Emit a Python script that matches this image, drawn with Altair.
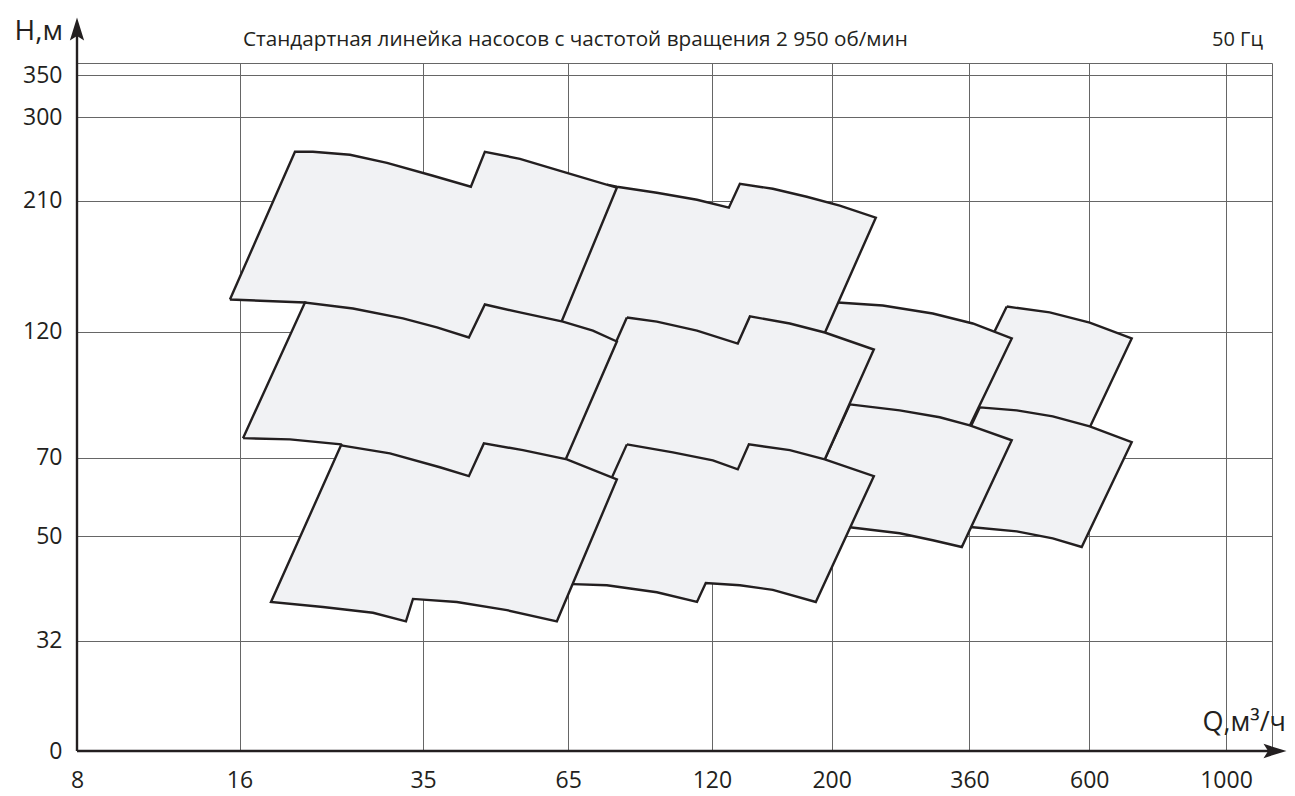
import altair as alt
import pandas as pd

# ---- axis ticks ----
Q_TICKS = [8, 16, 35, 65, 120, 200, 360, 600, 1000]
H_TICKS = [20, 32, 50, 70, 120, 210, 300, 350]   # 20 is the base line, labelled "0"

# ---- pump coverage regions: outline points (Q in m3/h, H in m) ----
T1_Q = [15.36, 20.27, 21.88, 25.63, 30.01, 36.51, 42.92, 45.56, 52.91, 64.64, 80.00, 62.21, 42.74, 21.15, 15.36]
T1_H = [137.6, 258.6, 258.6, 255.3, 246.7, 233.4, 222.7, 258.6, 250.9, 236.4, 221.8, 120.5, 106.1, 135.8, 137.6]

T2_Q = [76.66, 80.00, 94.88, 112.6, 129.0, 135.2, 155.6, 179.8, 207.0, 241.4, 186.1, 114.0, 60.12, 76.66]
T2_H = [224.6, 222.7, 217.1, 210.7, 203.7, 225.6, 220.8, 213.4, 205.4, 195.2, 108.3, 103.8, 118.0, 224.6]

T3_Q = [196.7, 205.3, 248.7, 307.8, 365.1, 431.1, 349.9, 216.0, 186.1, 196.7]
T3_H = [135.8, 135.8, 134.1, 129.6, 124.2, 116.5, 75.4, 75.4, 115.5, 135.8]

T4_Q = [422.0, 506.9, 601.2, 719.1, 583.5, 384.3, 346.9, 422.0]
T4_H = [133.5, 130.2, 124.7, 116.5, 74.8, 78.7, 89.4, 133.5]

M1_Q = [16.24, 21.15, 25.96, 32.13, 37.13, 42.56, 45.56, 52.91, 63.55, 72.23, 80.00, 63.01, 42.74, 25.63, 24.67, 19.84, 16.24]
M1_H = [76.1, 135.8, 132.4, 126.9, 122.1, 117.0, 134.7, 130.2, 125.2, 120.5, 115.0, 66.3, 60.9, 70.4, 74.1, 75.7, 76.1]

M2_Q = [83.49, 94.88, 112.6, 134.0, 141.1, 167.3, 194.2, 239.4, 190.1, 114.0, 61.42, 83.49]
M2_H = [127.4, 125.2, 120.5, 114.0, 128.0, 124.2, 119.5, 111.1, 66.3, 60.9, 63.6, 127.4]

M3_Q = [216.0, 267.4, 317.1, 360.5, 431.1, 348.4, 307.8, 267.4, 216.0, 170.2, 216.0]
M3_H = [87.9, 85.7, 83.2, 80.4, 75.4, 47.8, 49.2, 50.7, 52.0, 52.0, 87.9]

M4_Q = [376.2, 440.4, 513.5, 601.2, 719.1, 581.0, 513.5, 440.4, 365.1, 296.2, 376.2]
M4_H = [86.8, 85.7, 83.5, 80.0, 74.8, 47.8, 49.6, 51.1, 52.0, 52.0, 86.8]

B1_Q = [24.67, 30.39, 37.61, 42.56, 45.37, 53.59, 64.64, 80.00, 61.94, 50.06, 40.43, 33.53, 32.54, 28.27, 22.84, 18.30, 24.67]
B1_H = [73.8, 71.3, 67.2, 64.7, 74.4, 72.3, 69.5, 63.8, 34.8, 36.5, 37.8, 38.3, 34.8, 36.1, 37.0, 37.8, 73.8]

B2_Q = [83.49, 101.6, 120.5, 134.0, 140.5, 167.3, 194.2, 239.4, 186.9, 155.6, 135.2, 116.9, 112.6, 94.88, 76.66, 66.31, 63.82, 83.49]
B2_H = [74.1, 71.6, 69.2, 66.6, 74.1, 72.3, 69.5, 64.7, 37.8, 39.8, 40.6, 41.0, 37.8, 39.4, 40.6, 40.8, 40.8, 74.1]

# drawing order: back to front
SHAPES = [("T4", T4_Q, T4_H), ("T3", T3_Q, T3_H), ("T2", T2_Q, T2_H), ("T1", T1_Q, T1_H),
          ("M4", M4_Q, M4_H), ("M3", M3_Q, M3_H), ("M2", M2_Q, M2_H), ("M1", M1_Q, M1_H),
          ("B2", B2_Q, B2_H), ("B1", B1_Q, B1_H)]

TITLE = "Стандартная линейка насосов с частотой вращения 2 950 об/мин"
FREQ = "50 Гц"
FONT = "Open Sans"
INK = "#231f20"
FILL = "#f1f2f4"
GRID = "#666666"

W, H = 1195, 688

x_enc = alt.X("Q:Q",
              scale=alt.Scale(type="log", domain=[8, 720, 1000, 1175], range=[0, 1055, 1149, 1195],
                              nice=False, zero=False),
              axis=alt.Axis(values=Q_TICKS, format="d", title=None, grid=True, ticks=False,
                            domain=False, labelPadding=18, labelFontSize=23, labelFont=FONT,
                            labelColor=INK, gridColor=GRID, gridWidth=1, labelOverlap=False,
                            labelBound=False, labelFlush=False))
y_enc = alt.Y("H:Q",
              scale=alt.Scale(type="log", domain=[20, 300, 350, 366], range=[688, 54, 12, 0],
                              nice=False, zero=False),
              axis=alt.Axis(values=H_TICKS, format="d", title=None, grid=True, ticks=False,
                            domain=False, labelPadding=15, labelFontSize=23, labelFont=FONT,
                            labelColor=INK, gridColor=GRID, gridWidth=1, labelOverlap=False,
                            labelBound=False, labelFlush=False,
                            labelExpr="datum.value == 20 ? '0' : datum.label"))

layers = []
for name, qs, hs in SHAPES:
    df = pd.DataFrame({"Q": qs, "H": hs, "i": list(range(len(qs))), "shape": name})
    layers.append(
        alt.Chart(df).mark_line(fill=FILL, stroke=INK, strokeWidth=2.4, strokeJoin="miter",
                                strokeMiterLimit=10, clip=False)
        .encode(x=x_enc, y=y_enc, order="i:Q")
    )

one = pd.DataFrame({"k": [0]})
base = alt.Chart(one)

y_axis_line = base.mark_rule(color=INK, strokeWidth=2.4).encode(
    x=alt.value(0), y=alt.value(-38), y2=alt.value(H))
x_axis_line = base.mark_rule(color=INK, strokeWidth=2.4).encode(
    x=alt.value(0), x2=alt.value(1192), y=alt.value(H))
arrow_up = base.mark_point(shape="M0,-1L0.62,1L0,0.6L-0.62,1Z", filled=True, size=529,
                           color=INK, opacity=1).encode(x=alt.value(0), y=alt.value(-34))
arrow_right = base.mark_point(shape="M1,0L-1,0.62L-0.6,0L-1,-0.62Z", filled=True, size=529,
                              color=INK, opacity=1).encode(x=alt.value(1198), y=alt.value(H))

title_txt = base.mark_text(text=TITLE, align="left", baseline="alphabetic", font=FONT,
                           fontSize=20.7, color=INK).encode(x=alt.value(166), y=alt.value(-17))
freq_txt = base.mark_text(text=FREQ, align="right", baseline="alphabetic", font=FONT,
                          fontSize=20, color=INK).encode(x=alt.value(1186), y=alt.value(-17))
h_txt = base.mark_text(text="H,м", align="right", baseline="alphabetic", font=FONT,
                       fontSize=28, color=INK).encode(x=alt.value(-14), y=alt.value(-23))
q_txt = base.mark_text(text="Q,м³/ч", align="right", baseline="alphabetic", font=FONT,
                       fontSize=27, color=INK).encode(x=alt.value(1209), y=alt.value(668))

chart = alt.layer(*layers, y_axis_line, x_axis_line, arrow_up, arrow_right,
                  title_txt, freq_txt, h_txt, q_txt).properties(
    width=W, height=H,
    autosize=alt.AutoSizeParams(type="none"),
    padding={"left": 69, "top": 55, "right": 15, "bottom": 45},
    background="white",
).configure_view(stroke=GRID, strokeWidth=1)

chart.save("out.html", embed_options={"renderer": "svg", "actions": False})
